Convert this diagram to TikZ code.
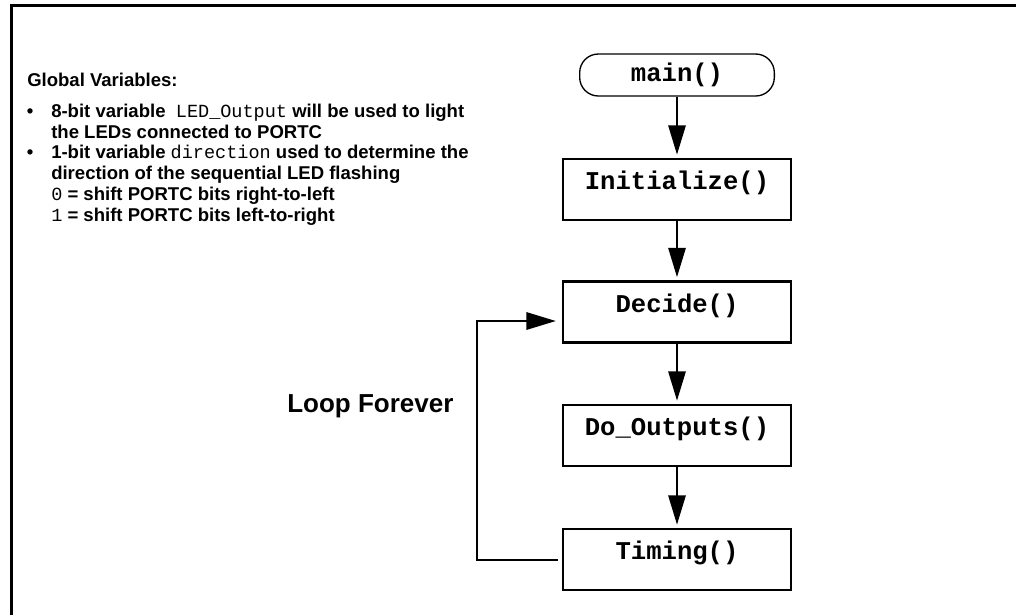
\documentclass[tikz,border=0pt]{standalone}
\usepackage{fontspec}
\setmainfont{Liberation Sans}
\setmonofont{Liberation Mono}
\usetikzlibrary{arrows.meta}
\newcommand{\mono}[1]{{\normalfont\ttfamily #1}}

\begin{document}
\begin{tikzpicture}[x=0.75pt, y=-0.75pt,
    box/.style={draw, line width=1.8pt, minimum width=171pt, minimum height=45.5pt, inner sep=0pt,
        text height=8pt, text depth=8pt, font=\fontsize{19.2}{22}\selectfont\ttfamily\bfseries},
    term/.style={draw, line width=1pt, rounded corners=14pt, minimum width=146pt, minimum height=31.5pt,
        inner sep=0pt, font=\fontsize{19.2}{22}\selectfont\ttfamily\bfseries},
    flow/.style={line width=1.5pt, -{Triangle[length=22pt, width=13pt]}, shorten >=2.5pt},
    note/.style={anchor=base west, align=left, inner sep=0pt, font=\fontsize{13.9}{15.75}\selectfont\bfseries}]
    \useasboundingbox (0,0) rectangle (1016,615);

    % === Frame ===
    \draw[line width=1.6pt] (11.5,615) -- (11.5,5.5) -- (1016,5.5);

    % === Global variables (base = last line) ===
    \node[note] (globals) at (27,86) {Global Variables:};
    \node[note, anchor=base] (dot1) at (30,117) {\textbullet};
    \node[note] (item1) at (51,138) {8-bit variable \ \mono{LED\_Output} will be used to light\\
        the LEDs connected to PORTC};
    \node[note, anchor=base] (dot2) at (30,158) {\textbullet};
    \node[note] (item2) at (51,221) {1-bit variable \mono{direction} used to determine the\\
        direction of the sequential LED flashing\\
        \mono{0} = shift PORTC bits right-to-left\\
        \mono{1} = shift PORTC bits left-to-right};

    % === Flow ===
    \node[term] (main) at (677,75) {main()};
    \node[box] (init) at (677,189.5) {Initialize()};
    \node[box] (decide) at (677,312) {Decide()};
    \node[box] (outputs) at (677,435.5) {Do\_Outputs()};
    \node[box] (timing) at (677,559.5) {Timing()};

    \draw[flow] (main) -- (init);
    \draw[flow] (init) -- (decide);
    \draw[flow] (decide) -- (outputs);
    \draw[flow] (outputs) -- (timing);

    % Loop back
    \coordinate (bend) at (477,321);
    \draw[flow, shorten <=3pt, shorten >=4.5pt] (timing.west) -| (bend) -- (bend -| decide.west);
    \node[anchor=base west, inner sep=0pt, font=\fontsize{19.5}{22}\selectfont\bfseries] (loopnote)
        at (287,412) {Loop Forever};
\end{tikzpicture}
\end{document}
